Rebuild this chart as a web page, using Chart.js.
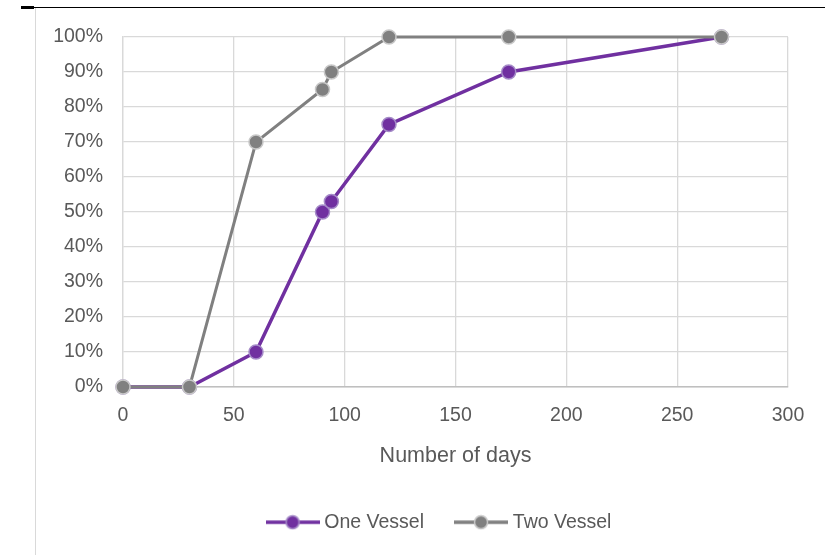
<!DOCTYPE html>
<html>
<head>
<meta charset="utf-8">
<script src="https://cdn.jsdelivr.net/npm/chart.js@4.4.1/dist/chart.umd.min.js"></script>
<style>
  html, body { margin: 0; padding: 0; background: #fff; }
  #wrap { position: relative; width: 825px; height: 555px; }
  #topline { position: absolute; left: 21px; top: 7px; width: 804px; height: 1px; background: #000; }
  #topnub { position: absolute; left: 21px; top: 6px; width: 13px; height: 3px; background: #000; }
  #sideline { position: absolute; left: 35px; top: 8px; width: 1px; height: 547px; background: #d9d9d9; }
  canvas { position: absolute; left: 0; top: 0; }
</style>
</head>
<body>
<div id="wrap">
  <div id="topline"></div>
  <div id="topnub"></div>
  <div id="sideline"></div>
  <canvas id="chart" width="825" height="555"></canvas>
</div>
<script>
const days = [0, 30, 60, 90, 94, 120, 174, 270];
const oneVessel = [0, 0, 10, 50, 53, 75, 90, 100];
const twoVessel = [0, 0, 70, 85, 90, 100, 100, 100];
const xTicks = [0, 50, 100, 150, 200, 250, 300];
const yTicks = [0, 10, 20, 30, 40, 50, 60, 70, 80, 90, 100];

const FONT = "'Liberation Sans', Arial, sans-serif";
const TEXT = "#595959";

// little line + dot used as legend symbol (like Excel's)
function legendIcon(fill, border) {
  const c = document.createElement("canvas");
  c.width = 54;
  c.height = 16;
  const g = c.getContext("2d");
  g.strokeStyle = fill;
  g.lineWidth = 3.5;
  g.beginPath();
  g.moveTo(0, 8);
  g.lineTo(54, 8);
  g.stroke();
  g.beginPath();
  g.arc(27, 8, 6.5, 0, Math.PI * 2);
  g.fillStyle = fill;
  g.fill();
  g.lineWidth = 1.5;
  g.strokeStyle = border;
  g.stroke();
  return c;
}

const pts = (ys) => days.map((d, i) => ({ x: d, y: ys[i] }));

// the legend sits a bit right of the canvas centre in the original
const nudgeLegend = {
  id: "nudgeLegend",
  afterLayout(chart) {
    if (chart.legend) chart.legend.left += 54;
  },
};

new Chart(document.getElementById("chart"), {
  type: "line",
  data: {
    datasets: [
      {
        label: "Two Vessel",
        data: pts(twoVessel),
        borderColor: "#808080",
        backgroundColor: "#808080",
        borderWidth: 3,
        pointRadius: 7,
        pointBorderWidth: 1.5,
        pointBackgroundColor: "#808080",
        pointBorderColor: "#c8c8c8",
        tension: 0,
        clip: false,
        legendIcon: legendIcon("#808080", "#c8c8c8"),
      },
      {
        label: "One Vessel",
        data: pts(oneVessel),
        borderColor: "#7030a0",
        backgroundColor: "#7030a0",
        borderWidth: 3.5,
        pointRadius: 7,
        pointBorderWidth: 1.5,
        pointBackgroundColor: "#7030a0",
        pointBorderColor: "#a58bc8",
        tension: 0,
        clip: false,
        legendIcon: legendIcon("#7030a0", "#a58bc8"),
      },
    ],
  },
  options: {
    responsive: false,
    animation: false,
    layout: { padding: { left: 40, right: 37, top: 37, bottom: 13 } },
    scales: {
      x: {
        type: "linear",
        min: 0,
        max: 300,
        afterBuildTicks: (s) => { s.ticks = xTicks.map((v) => ({ value: v })); },
        afterFit: (s) => { s.height = 90.5; },
        grid: { color: "#d9d9d9", lineWidth: 1.3, drawTicks: false },
        border: { color: "#bfbfbf", width: 1.5 },
        ticks: { color: TEXT, font: { family: FONT, size: 19.5 }, padding: 17 },
        title: {
          display: true,
          text: "Number of days",
          color: TEXT,
          font: { family: FONT, size: 21.5 },
          padding: { top: 0, bottom: 9 },
        },
      },
      y: {
        min: 0,
        max: 100,
        afterBuildTicks: (s) => { s.ticks = yTicks.map((v) => ({ value: v })); },
        afterFit: (s) => { s.width = 83; },
        grid: { color: "#d9d9d9", lineWidth: 1.3, drawTicks: false },
        border: { color: "#d9d9d9", width: 1.3 },
        ticks: {
          color: TEXT,
          font: { family: FONT, size: 19.5 },
          padding: 20,
          callback: (v) => v + "%",
        },
      },
    },
    plugins: {
      tooltip: { enabled: false },
      legend: {
        position: "bottom",
        labels: {
          color: TEXT,
          font: { family: FONT, size: 19.5 },
          usePointStyle: true,
          pointStyleWidth: 44,
          boxHeight: 16,
          padding: 35,
          sort: (a, b) => b.datasetIndex - a.datasetIndex,
          generateLabels: (chart) =>
            chart.data.datasets.map((ds, i) => ({
              text: ds.label,
              pointStyle: ds.legendIcon,
              fontColor: TEXT,
              datasetIndex: i,
              hidden: false,
              lineWidth: 0,
            })),
        },
      },
    },
  },
  plugins: [nudgeLegend],
});
</script>
</body>
</html>
